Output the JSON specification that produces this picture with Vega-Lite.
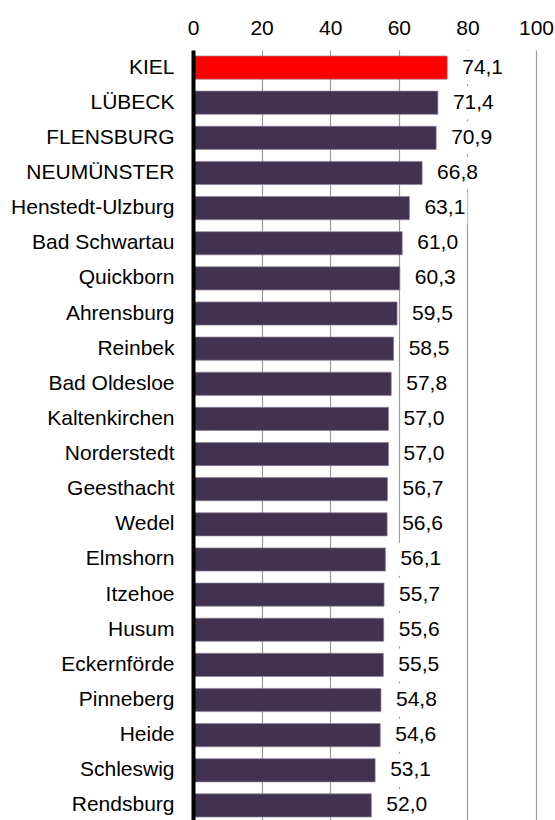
{
  "$schema": "https://vega.github.io/schema/vega-lite/v6.json",
  "autosize": "none",
  "padding": {"left": 193, "top": 50, "right": 19, "bottom": 0},
  "width": 343,
  "height": 773,
  "background": "white",
  "config": {
    "locale": {"number": {"decimal": ",", "thousands": ".", "grouping": [3], "currency": ["", " €"]}},
    "view": {"stroke": null},
    "font": "Liberation Sans"
  },
  "data": {
    "values": [
      {"city": "KIEL", "value": 74.1},
      {"city": "LÜBECK", "value": 71.4},
      {"city": "FLENSBURG", "value": 70.9},
      {"city": "NEUMÜNSTER", "value": 66.8},
      {"city": "Henstedt-Ulzburg", "value": 63.1},
      {"city": "Bad Schwartau", "value": 61.0},
      {"city": "Quickborn", "value": 60.3},
      {"city": "Ahrensburg", "value": 59.5},
      {"city": "Reinbek", "value": 58.5},
      {"city": "Bad Oldesloe", "value": 57.8},
      {"city": "Kaltenkirchen", "value": 57.0},
      {"city": "Norderstedt", "value": 57.0},
      {"city": "Geesthacht", "value": 56.7},
      {"city": "Wedel", "value": 56.6},
      {"city": "Elmshorn", "value": 56.1},
      {"city": "Itzehoe", "value": 55.7},
      {"city": "Husum", "value": 55.6},
      {"city": "Eckernförde", "value": 55.5},
      {"city": "Pinneberg", "value": 54.8},
      {"city": "Heide", "value": 54.6},
      {"city": "Schleswig", "value": 53.1},
      {"city": "Rendsburg", "value": 52.0}
    ]
  },
  "encoding": {
    "y": {
      "field": "city", "type": "nominal", "sort": null,
      "scale": {"paddingInner": 0.34, "paddingOuter": 0.17},
      "axis": {
        "title": null, "ticks": false, "tickSize": 0, "grid": false,
        "domain": true, "domainColor": "#000000", "domainWidth": 4, "zindex": 1,
        "labelFont": "Liberation Sans", "labelFontSize": 21, "labelColor": "#000000",
        "labelPadding": 19, "labelLimit": 300
      }
    }
  },
  "layer": [
    {
      "mark": {"type": "bar", "stroke": "#8c8399", "strokeWidth": 0.7},
      "encoding": {
        "x": {
          "field": "value", "type": "quantitative",
          "scale": {"domain": [0, 100], "nice": false},
          "axis": {
            "orient": "top", "title": null, "values": [0, 20, 40, 60, 80, 100],
            "domain": false, "ticks": false, "tickSize": 0,
            "grid": true, "gridColor": "#9a9a9a", "gridWidth": 1.2,
            "labelFont": "Liberation Sans", "labelFontSize": 21, "labelColor": "#000000",
            "labelPadding": 12, "labelFlush": false
          }
        },
        "color": {
          "condition": {"test": "datum.city === 'KIEL'", "value": "#ff0000"},
          "value": "#413250"
        }
      }
    },
    {
      "mark": {"type": "bar", "color": "white", "size": 33, "xOffset": 13, "x2Offset": 58},
      "encoding": {
        "x": {"field": "value", "type": "quantitative"},
        "x2": {"field": "value"}
      }
    },
    {
      "mark": {"type": "text", "align": "left", "baseline": "middle", "dx": 15, "fontSize": 21, "font": "Liberation Sans", "color": "#000000"},
      "encoding": {
        "x": {"field": "value", "type": "quantitative"},
        "text": {"field": "value", "type": "quantitative", "format": ".1f"}
      }
    }
  ]
}
